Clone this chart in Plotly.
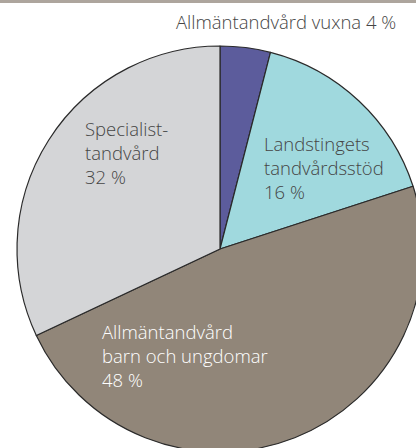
import plotly.graph_objects as go

labels = ["Allmäntandvård vuxna", "Landstingets tandvårdsstöd",
          "Allmäntandvård barn och ungdomar", "Specialisttandvård"]
values = [4, 16, 48, 32]
colors = ["#5c5c9c", "#a0d9de", "#918679", "#d4d5d7"]
label_texts = ["Allmäntandvård vuxna 4 %",
               "Landstingets<br>tandvårdsstöd<br>16 %",
               "Allmäntandvård<br>barn och ungdomar<br>48 %",
               "Specialist-<br>tandvård<br>32 %"]

W, H = 440, 460
cx, cy, r = 220, 249, 203

def px(x):
    return x / W

def py(y):
    return 1 - y / H

fig = go.Figure(go.Pie(
    labels=labels, values=values, sort=False, direction="clockwise", rotation=0,
    marker=dict(colors=colors, line=dict(color="#2a2a2a", width=1.2)),
    textinfo="none", hoverinfo="label+percent", showlegend=False,
    domain=dict(x=[px(cx - r), px(cx + r)], y=[py(cy + r), py(cy - r)]),
))

font = dict(family="Open Sans, Lato, sans-serif", size=18.5, color="#454545", weight=300)
ann = [
    dict(text=label_texts[0], x=px(398), y=py(22), xanchor="right", yanchor="middle", align="right"),
    dict(text=label_texts[1], x=px(262), y=py(167), xanchor="left", yanchor="middle", align="left"),
    dict(text=label_texts[2], x=px(100), y=py(355), xanchor="left", yanchor="middle", align="left",
         font=dict(font, color="#ffffff")),
    dict(text=label_texts[3], x=px(83), y=py(152), xanchor="left", yanchor="middle", align="left"),
]
for a in ann:
    a.setdefault("font", font)
    a.update(xref="paper", yref="paper", showarrow=False)

fig.update_layout(
    width=W, height=H, autosize=False,
    margin=dict(l=0, r=0, t=0, b=0),
    paper_bgcolor="#ffffff", plot_bgcolor="#ffffff",
    annotations=ann,
    shapes=[dict(type="rect", xref="paper", yref="paper", x0=0, x1=1, y0=py(3), y1=1,
                 fillcolor="#ada59d", line=dict(width=0), layer="above")],
)

fig.write_html("out.html", config={"displayModeBar": False},
               post_script="document.body.style.margin='0';document.body.style.overflow='hidden';")
